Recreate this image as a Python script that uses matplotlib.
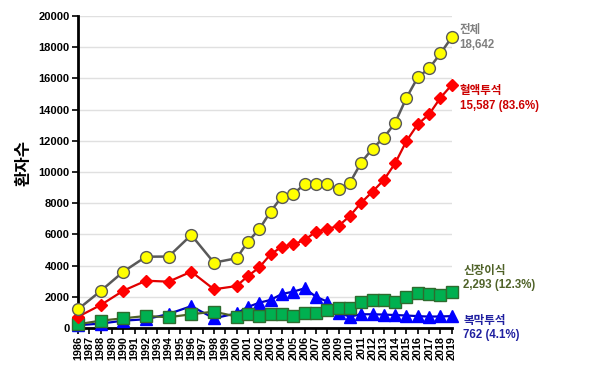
import matplotlib
matplotlib.use("Agg")
import matplotlib.pyplot as plt

plt.rcParams['font.family'] = ['Liberation Sans', 'Noto Sans CJK KR', 'DejaVu Sans']

years = [1986, 1988, 1990, 1992, 1994, 1996, 1998, 2000, 2001, 2002, 2003, 2004,
         2005, 2006, 2007, 2008, 2009, 2010, 2011, 2012, 2013, 2014, 2015, 2016,
         2017, 2018, 2019]
total = [1200, 2370, 3610, 4570, 4580, 5960, 4190, 4470, 5530, 6330, 7460, 8420,
         8590, 9210, 9210, 9200, 8890, 9310, 10600, 11500, 12200, 13160, 14760,
         16070, 16640, 17600, 18642]
hd = [720, 1470, 2390, 3030, 2970, 3610, 2480, 2690, 3330, 3880, 4720, 5210,
      5360, 5640, 6170, 6350, 6540, 7180, 8030, 8740, 9490, 10560, 11990, 13060,
      13700, 14760, 15587]
kt = [240, 470, 620, 770, 690, 880, 1050, 730, 880, 790, 880, 900,
      790, 940, 940, 1150, 1300, 1300, 1640, 1790, 1790, 1690, 2010, 2270,
      2200, 2120, 2293]
pd_ = [180, 280, 470, 560, 900, 1400, 620, 940, 1350, 1620, 1800, 2180,
       2330, 2540, 2010, 1690, 960, 730, 880, 880, 860, 830, 800, 760,
       730, 740, 762]

fig = plt.figure(figsize=(6, 3.77), dpi=100)
ax = fig.add_axes([0.13, 0.13, 0.623, 0.8276])

ax.plot(years, pd_, color='#0000C0', lw=1.6, marker='^', ms=8.5,
        mfc='#0000FF', mec='#0000FF', clip_on=False, zorder=3)
ax.plot(years, kt, color='#4F6228', lw=1.6, marker='s', ms=8,
        mfc='#00B050', mec='#2E6B2E', mew=1, clip_on=False, zorder=4)
ax.plot(years, hd, color='#E00000', lw=1.6, marker='D', ms=6.5,
        mfc='#FF0000', mec='#FF0000', clip_on=False, zorder=5)
ax.plot(years, total, color='#595959', lw=1.8, marker='o', ms=8.5,
        mfc='#FFFF00', mec='#595959', mew=1, clip_on=False, zorder=6)

ax.set_xlim(1986, 2019)
ax.set_ylim(0, 20000)
ax.set_yticks(range(0, 20001, 2000))
ax.set_xticks(range(1986, 2020))
ax.set_xticklabels([str(y) for y in range(1986, 2020)], rotation=90,
                   fontsize=7.8, fontweight='bold')
for lab in ax.get_yticklabels():
    lab.set_fontsize(8)
    lab.set_fontweight('bold')
ax.grid(axis='y', color='#E0E0E0', lw=1)
ax.set_axisbelow(True)
for s in ['top', 'right']:
    ax.spines[s].set_visible(False)
ax.spines['left'].set_linewidth(2)
ax.spines['bottom'].set_linewidth(2)
ax.tick_params(axis='both', direction='out', length=4, width=1.2, pad=2)
ax.set_ylabel('환자수', fontsize=12, fontweight='bold', labelpad=10)
ax.yaxis.set_label_coords(-0.125, 0.53)

tx = 2019.7
kw = dict(fontsize=8.3, fontweight='bold', va='center', ha='left',
          linespacing=1.3, clip_on=False)
ax.text(tx, 18642, '전체\n18,642', color='#808080', **kw)
ax.text(tx, 14700, '혈액투석\n15,587 (83.6%)', color='#CC0000', **kw)
ax.text(tx + 0.3, 3200, '신장이식\n2,293 (12.3%)', color='#4F6228', **kw)
ax.text(tx + 0.3, 0, '복막투석\n762 (4.1%)', color='#1F1FA0', **kw)

fig.savefig('out.png', dpi=100)
